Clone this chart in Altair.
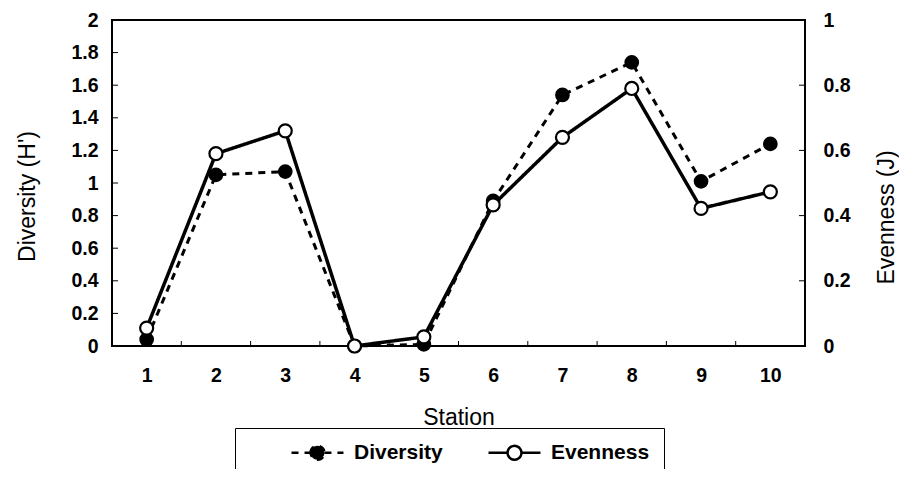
import altair as alt
import pandas as pd

stations = [1, 2, 3, 4, 5, 6, 7, 8, 9, 10]
diversity = [0.04, 1.05, 1.07, 0.0, 0.01, 0.89, 1.54, 1.74, 1.01, 1.24]
evenness = [0.055, 0.59, 0.66, 0.0, 0.028, 0.433, 0.64, 0.79, 0.422, 0.473]
series_names = ["Diversity", "Evenness"]
left_values = [0, 0.2, 0.4, 0.6, 0.8, 1, 1.2, 1.4, 1.6, 1.8, 2]
right_values = [0, 0.2, 0.4, 0.6, 0.8, 1]
left_ticks = [0.2, 0.4, 0.6, 0.8, 1, 1.2, 1.4, 1.6, 1.8]
right_ticks = [0.2, 0.4, 0.6, 0.8]
x_ticks = [1.5, 2.5, 3.5, 4.5, 5.5, 6.5, 7.5, 8.5, 9.5]

W, H = 693, 326
FONT = "Liberation Sans"
common = dict(ticks=False, grid=False, domain=False, labelFont=FONT, titleFont=FONT,
              labelFontSize=19.5, labelFontWeight="bold", labelColor="black",
              titleColor="black", titleFontSize=23, titleFontWeight="normal")

df_div = pd.DataFrame({"station": stations, "value": diversity, "series": "Diversity"})
df_even = pd.DataFrame({"station": stations, "value": evenness, "series": "Evenness"})

xscale = alt.Scale(domain=[0.5, 10.5], nice=False, zero=False)
lscale = alt.Scale(domain=[0, 2], nice=False)
rscale = alt.Scale(domain=[0, 1], nice=False)

x_axis = alt.Axis(values=stations, format="d", labelPadding=20, title="Station", titleY=71,
                  titleBaseline="middle", **common)
x_enc = alt.X("station:Q", scale=xscale, axis=x_axis)

left_axis = alt.Axis(values=left_values, format="~g", labelPadding=14, title="Diversity (H')",
                     titleX=-85, titleY=176, titleAngle=270, titleBaseline="middle", **common)
right_axis = alt.Axis(orient="right", values=right_values, format="~g", labelPadding=18,
                      title="Evenness (J)", titleX=81, titleY=197, titleAngle=270,
                      titleBaseline="middle", **common)
yl = alt.Y("value:Q", scale=lscale, axis=left_axis)
yr = alt.Y("value:Q", scale=rscale, axis=right_axis)

SYM = ("M-3,0L-0.8,0M0.8,0L3,0"
       "M-0.8,0A0.8,0.8,0,1,1,0.8,0A0.8,0.8,0,1,1,-0.8,0")
leg = alt.Legend(title=" ", titleOrient="left", titleFontSize=4, titlePadding=58,
                 orient="none", legendX=123, legendY=408, direction="horizontal",
                 symbolType=SYM, symbolSize=300, symbolStrokeColor="black",
                 symbolStrokeWidth=2.5, labelOffset=26, columnPadding=40, padding=14,
                 strokeColor="black", labelFontSize=21, labelFontWeight="bold",
                 labelFont=FONT, labelColor="black")

fill_scale = alt.Scale(domain=series_names, range=["black", "white"])
dash_scale = alt.Scale(domain=series_names, range=[[7, 6], [1, 0]])

div_line = alt.Chart(df_div).mark_line(color="black", strokeWidth=3).encode(
    x=x_enc, y=yl,
    strokeDash=alt.StrokeDash("series:N", scale=dash_scale, legend=leg))
div_pts = alt.Chart(df_div).mark_point(shape="circle", filled=True, size=175, stroke="black",
                                       strokeWidth=1.5, opacity=1).encode(
    x=x_enc, y=yl,
    fill=alt.Fill("series:N", scale=fill_scale, legend=leg))
lt = alt.Chart(pd.DataFrame({"value": left_ticks})).mark_rule(color="black", strokeWidth=1).encode(
    y=yl, x=alt.value(0), x2=alt.value(6))
xt = alt.Chart(pd.DataFrame({"station": x_ticks})).mark_rule(color="black", strokeWidth=1).encode(
    x=x_enc, y=alt.value(H), y2=alt.value(H - 5))

even_line = alt.Chart(df_even).mark_line(color="black", strokeWidth=3.5).encode(
    x=x_enc, y=yr,
    strokeDash=alt.StrokeDash("series:N", scale=dash_scale, legend=leg))
even_pts = alt.Chart(df_even).mark_point(shape="circle", filled=True, size=170, stroke="black",
                                         strokeWidth=2.2, opacity=1).encode(
    x=x_enc, y=yr,
    fill=alt.Fill("series:N", scale=fill_scale, legend=leg))
rt = alt.Chart(pd.DataFrame({"value": right_ticks})).mark_rule(color="black", strokeWidth=1).encode(
    y=yr, x=alt.value(W), x2=alt.value(W - 6))

left_group = alt.layer(lt, xt, div_line, div_pts)
right_group = alt.layer(rt, even_line, even_pts)

chart = alt.layer(left_group, right_group).resolve_scale(y="independent").properties(
    width=W, height=H,
    autosize=alt.AutoSizeParams(type="none"),
    padding={"left": 104, "top": 12, "right": 94, "bottom": 123},
).configure(font=FONT).configure_view(stroke="black", strokeWidth=2)

chart.save("out.html", embed_options={"renderer": "svg", "actions": False})
